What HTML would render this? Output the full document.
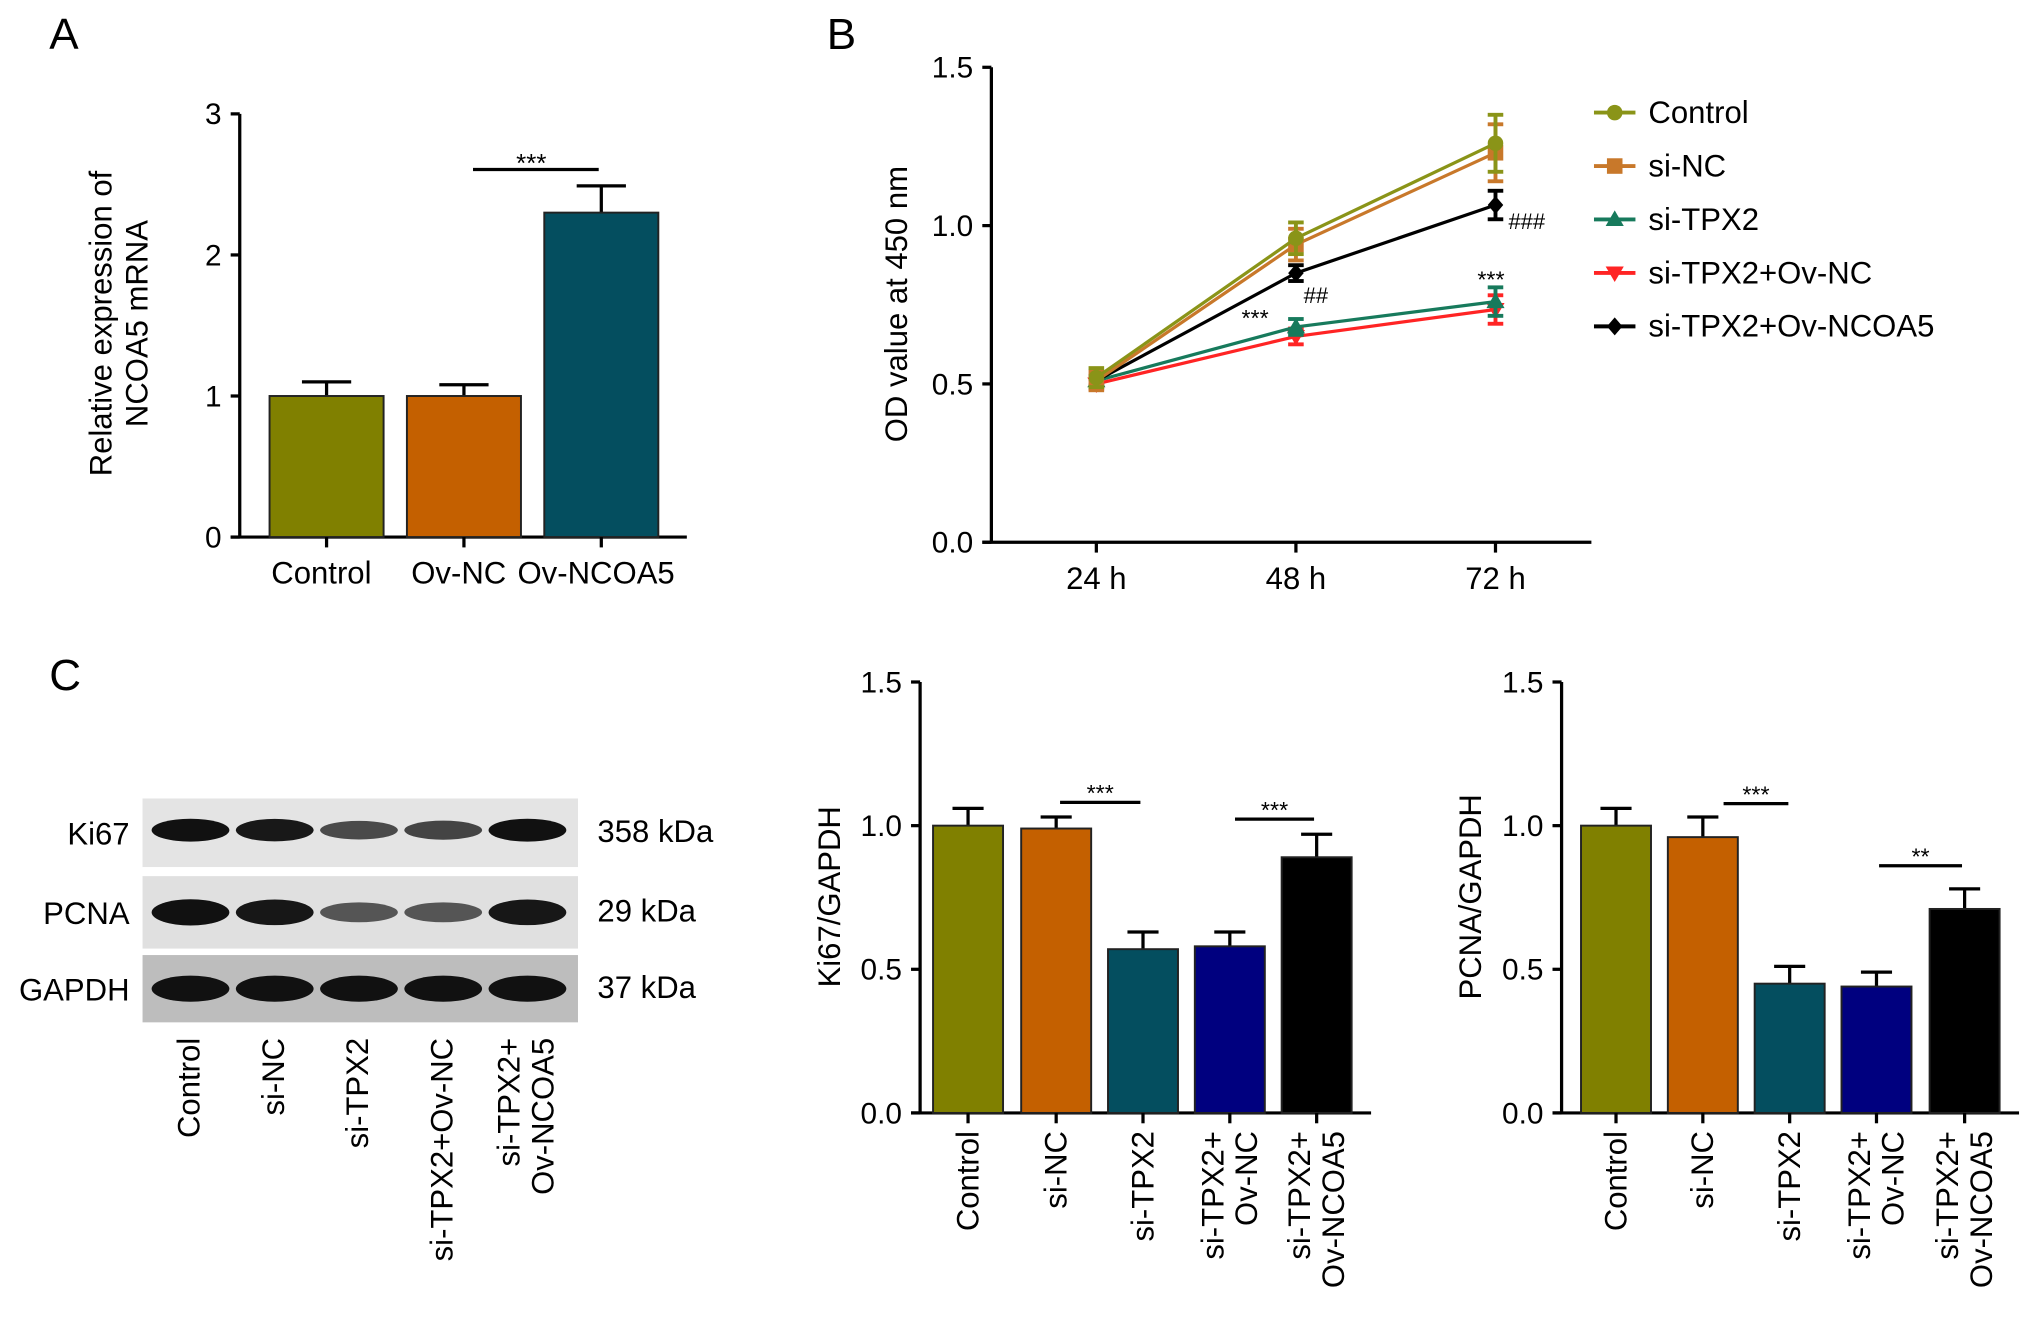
<!DOCTYPE html>
<html><head><meta charset="utf-8"><style>
html,body{margin:0;padding:0;background:#fff}
svg{display:block;font-family:"Liberation Sans",Arial,sans-serif}
</style></head><body>
<svg id="fig" width="2032" height="1320" viewBox="0 0 1568 1020" preserveAspectRatio="none" xmlns="http://www.w3.org/2000/svg">
<text x="38" y="38" font-size="34">A</text>
<text x="638" y="38" font-size="34">B</text>
<text x="38" y="533" font-size="34">C</text>
<g id="gA"></g>
<g id="gB"></g>
<g id="gBlot"></g>
<g id="gK"></g>
<g id="gP"></g>
</svg>
<script>
// Panel A data
const aCats = ["Control","Ov-NC","Ov-NCOA5"];
const aVals = [1.0, 1.0, 2.3];
const aErr = [0.10, 0.08, 0.19];
const aTicks = [0,1,2,3];
// Panel B data
const bTimes = ["24 h","48 h","72 h"];
const bNames = ["Control","si-NC","si-TPX2","si-TPX2+Ov-NC","si-TPX2+Ov-NCOA5"];
const bControl = [0.52, 0.96, 1.26];
const bSiNC = [0.51, 0.94, 1.23];
const bSiTPX2 = [0.51, 0.68, 0.76];
const bOvNC = [0.50, 0.65, 0.735];
const bOvNCOA5 = [0.51, 0.85, 1.065];
const bErr = [0.03, 0.05, 0.09];
const bTicks = [0.0, 0.5, 1.0, 1.5];
// Panel C data
const cCats = [["Control"],["si-NC"],["si-TPX2"],["si-TPX2+","Ov-NC"],["si-TPX2+","Ov-NCOA5"]];
const kiVals = [1.0, 0.99, 0.57, 0.58, 0.89];
const kiErr = [0.06, 0.04, 0.06, 0.05, 0.08];
const pcVals = [1.0, 0.96, 0.45, 0.44, 0.71];
const pcErr = [0.06, 0.07, 0.06, 0.05, 0.07];
const cTicks = [0.0, 0.5, 1.0, 1.5];
const blotRows = ["Ki67","PCNA","GAPDH"];
const blotKda = ["358 kDa","29 kDa","37 kDa"];
const blotLanes = ["Control","si-NC","si-TPX2","si-TPX2+Ov-NC","si-TPX2+Ov-NCOA5"];
const ki67Band = [1.0, 0.95, 0.55, 0.6, 1.0];
const pcnaBand = [1.0, 0.95, 0.45, 0.45, 0.95];
const gapdhBand = [1.0, 1.0, 1.0, 1.0, 1.0];

const NS="http://www.w3.org/2000/svg";
function el(p,tag,at,txt){const e=document.createElementNS(NS,tag);for(const k in at)e.setAttribute(k,at[k]);if(txt!==undefined)e.textContent=txt;p.appendChild(e);return e;}

// ---- Panel A ----
(function(){
 const g=document.getElementById('gA');
 const x0=185,yTop=88,yBot=415,vmax=3;
 const y=v=>yBot-(v/vmax)*(yBot-yTop);
 const cx=[252,358,464], bw=88;
 const colors=["#808000","#c46000","#044e5f"];
 let e=el(g,'line',{x1:x0,y1:yTop,x2:x0,y2:yBot+1,stroke:'#000','stroke-width':2.5});
 
 e=el(g,'line',{x1:x0-7,y1:yBot,x2:530,y2:yBot,stroke:'#000','stroke-width':2.5});
 
 aTicks.forEach(t=>{el(g,'line',{x1:x0-7,y1:y(t),x2:x0,y2:y(t),stroke:'#000','stroke-width':2.5});
  e=el(g,'text',{x:x0-14,y:y(t)+8,'font-size':23,'text-anchor':'end'},String(t));
  });
 aCats.forEach((c,i)=>{
  const top=y(aVals[i]);
  el(g,'line',{x1:cx[i],y1:y(aVals[i]+aErr[i]),x2:cx[i],y2:top,stroke:'#000','stroke-width':2.5});
  el(g,'line',{x1:cx[i]-19,y1:y(aVals[i]+aErr[i]),x2:cx[i]+19,y2:y(aVals[i]+aErr[i]),stroke:'#000','stroke-width':2.5});
  e=el(g,'rect',{x:cx[i]-bw/2,y:top,width:bw,height:yBot-top,fill:colors[i],stroke:'#222','stroke-width':1.5});
  
  el(g,'line',{x1:cx[i],y1:yBot,x2:cx[i],y2:yBot+8,stroke:'#000','stroke-width':2.5});
  e=el(g,'text',{x:cx[i]-4,y:451,'font-size':24,'text-anchor':'middle'},c);
  
 });
 el(g,'line',{x1:365,y1:131,x2:462,y2:131,stroke:'#000','stroke-width':2.5});
 el(g,'text',{x:410,y:133,'font-size':20,'text-anchor':'middle'},'***');
 e=el(g,'text',{transform:'translate(86,250) rotate(-90)','font-size':24,'text-anchor':'middle'},'Relative expression of');
 
 el(g,'text',{transform:'translate(114,250) rotate(-90)','font-size':24,'text-anchor':'middle'},'NCOA5 mRNA');
})();

// ---- Panel B ----
(function(){
 const g=document.getElementById('gB');
 const x0=765,yTop=52,yBot=419,vmax=1.5;
 const y=v=>yBot-(v/vmax)*(yBot-yTop);
 const xs=[846,1000,1154];
 let e=el(g,'line',{x1:x0,y1:yTop,x2:x0,y2:yBot,stroke:'#000','stroke-width':2.5});
 
 e=el(g,'line',{x1:x0-7,y1:yBot,x2:1228,y2:yBot,stroke:'#000','stroke-width':2.5});
 
 bTicks.forEach(t=>{el(g,'line',{x1:x0-7,y1:y(t),x2:x0,y2:y(t),stroke:'#000','stroke-width':2.5});
  e=el(g,'text',{x:x0-14,y:y(t)+8,'font-size':23,'text-anchor':'end'},t.toFixed(1));
  });
 bTimes.forEach((t,i)=>{el(g,'line',{x1:xs[i],y1:yBot,x2:xs[i],y2:yBot+8,stroke:'#000','stroke-width':2.5});
  e=el(g,'text',{x:xs[i],y:455,'font-size':24,'text-anchor':'middle'},t);
  });
 e=el(g,'text',{transform:'translate(700,235) rotate(-90)','font-size':24,'text-anchor':'middle'},'OD value at 450 nm');
 
 const series=[bControl,bSiNC,bSiTPX2,bOvNC,bOvNCOA5];
 const cols=["#8a9418","#c8782a","#177a5c","#ff2424","#000"];
 const marks=["circle","square","tri","itri","diamond"];
 function marker(p,m,cx,cy,c){
  if(m==="circle")return el(p,'circle',{cx,cy,r:6,fill:c});
  if(m==="square")return el(p,'rect',{x:cx-6,y:cy-6,width:12,height:12,fill:c});
  if(m==="tri")return el(p,'polygon',{points:`${cx},${cy-7} ${cx-7},${cy+5} ${cx+7},${cy+5}`,fill:c});
  if(m==="itri")return el(p,'polygon',{points:`${cx},${cy+7} ${cx-7},${cy-5} ${cx+7},${cy-5}`,fill:c});
  return el(p,'polygon',{points:`${cx},${cy-7} ${cx+6},${cy} ${cx},${cy+7} ${cx-6},${cy}`,fill:c});
 }
 [3,2,4,1,0].forEach(si=>{
  const s=series[si];
  const sg=el(g,'g',{});
  
  
  el(sg,'polyline',{points:s.map((v,i)=>xs[i]+','+y(v)).join(' '),fill:'none',stroke:cols[si],'stroke-width':2.5});
  s.forEach((v,i)=>{
   const er=bErr[i]*(si>=2?0.5:1);
   el(sg,'line',{x1:xs[i],y1:y(v+er),x2:xs[i],y2:y(v-er),stroke:cols[si],'stroke-width':3});
   el(sg,'line',{x1:xs[i]-6,y1:y(v+er),x2:xs[i]+6,y2:y(v+er),stroke:cols[si],'stroke-width':3});
   el(sg,'line',{x1:xs[i]-6,y1:y(v-er),x2:xs[i]+6,y2:y(v-er),stroke:cols[si],'stroke-width':3});
   const m=marker(sg,marks[si],xs[i],y(v),cols[si]);
   
  });
 });
 el(g,'text',{x:1006,y:234,'font-size':17},'##');
 el(g,'text',{x:1164,y:177,'font-size':17},'###');
 el(g,'text',{x:958,y:252,'font-size':18},'***');
 el(g,'text',{x:1140,y:222,'font-size':18},'***');
 bNames.forEach((n,i)=>{
  const ly=87+i*41.3;
  const lg=el(g,'g',{});
  
  el(lg,'line',{x1:1230,y1:ly,x2:1262,y2:ly,stroke:cols[i],'stroke-width':3});
  marker(lg,marks[i],1246,ly,cols[i]);
  el(lg,'text',{x:1272,y:ly+8,'font-size':24},n);
 });
})();

// ---- Western blot ----
(function(){
 const g=document.getElementById('gBlot');
 const strips=[[617,670,'#e4e4e4'],[677,733,'#e0e0e0'],[738,790,'#bdbdbd']];
 const lanes=[147,212,277,342,407];
 const bands=[ki67Band,pcnaBand,gapdhBand];
 const bh=[11,13,13];
 let e;
 blotRows.forEach((r,ri)=>{
  const [y1,y2,c]=strips[ri];
  e=el(g,'rect',{x:110,y:y1,width:336,height:y2-y1,fill:c});
  
  const cy=(y1+y2)/2;
  lanes.forEach((lx,li)=>{
   const k=bands[ri][li];
   e=el(g,'ellipse',{cx:lx,cy:cy-(ri===0?2:0),rx:30,ry:bh[ri]*(0.45+0.55*k)/1.6+2,fill:'#111','fill-opacity':0.4+0.6*k});
   
  });
  e=el(g,'text',{x:100,y:cy+9,'font-size':24,'text-anchor':'end'},r);
  
  e=el(g,'text',{x:461,y:cy+7,'font-size':24},blotKda[ri]);
  
 });
 const lab=[["Control"],["si-NC"],["si-TPX2"],["si-TPX2+Ov-NC"],["si-TPX2+","Ov-NCOA5"]];
 lab.forEach((L,i)=>{
  L.forEach((t,j)=>{
   const xx=lanes[i]+7+(L.length===2?(j===0?-13:13):0);
   e=el(g,'text',{transform:`translate(${xx},802) rotate(-90)`,'font-size':24,'text-anchor':'end'},t);
   
  });
 });
})();

// ---- Bar charts C ----
function barChart(id,x0,xs,vals,errs,title,sigs){
 const g=document.getElementById(id);
 const yTop=527,yBot=860,vmax=1.5,bw=54;
 const y=v=>yBot-(v/vmax)*(yBot-yTop);
 const colors=["#808000","#c46000","#044e5f","#00007f","#000"];
 let e=el(g,'line',{x1:x0,y1:yTop,x2:x0,y2:yBot,stroke:'#000','stroke-width':2.5});
 
 e=el(g,'line',{x1:x0-7,y1:yBot,x2:xs[4]+42,y2:yBot,stroke:'#000','stroke-width':2.5});
 
 cTicks.forEach(t=>{el(g,'line',{x1:x0-7,y1:y(t),x2:x0,y2:y(t),stroke:'#000','stroke-width':2.5});
  e=el(g,'text',{x:x0-14,y:y(t)+8,'font-size':23,'text-anchor':'end'},t.toFixed(1));
  });
 e=el(g,'text',{transform:`translate(${x0-62},693) rotate(-90)`,'font-size':24,'text-anchor':'middle'},title);
 
 vals.forEach((v,i)=>{
  const top=y(v);
  el(g,'line',{x1:xs[i],y1:y(v+errs[i]),x2:xs[i],y2:top,stroke:'#000','stroke-width':2.5});
  el(g,'line',{x1:xs[i]-12,y1:y(v+errs[i]),x2:xs[i]+12,y2:y(v+errs[i]),stroke:'#000','stroke-width':2.5});
  e=el(g,'rect',{x:xs[i]-bw/2,y:top,width:bw,height:yBot-top,fill:colors[i],stroke:'#222','stroke-width':1.5});
  
  el(g,'line',{x1:xs[i],y1:yBot,x2:xs[i],y2:yBot+8,stroke:'#000','stroke-width':2.5});
  const L=cCats[i];
  L.forEach((t,j)=>{
   const xx=xs[i]+8+(L.length===2?(j===0?-13:13):0);
   e=el(g,'text',{transform:`translate(${xx},874) rotate(-90)`,'font-size':24,'text-anchor':'end'},t);
   
  });
 });
 sigs.forEach(s=>{
  el(g,'line',{x1:s[0],y1:s[2],x2:s[1],y2:s[2],stroke:'#000','stroke-width':2.5});
  el(g,'text',{x:(s[0]+s[1])/2,y:s[2]-1,'font-size':18,'text-anchor':'middle'},s[3]);
 });
}
barChart('gK',710,[747,815,882,949,1016],kiVals,kiErr,'Ki67/GAPDH',[[818,880,620,'***'],[953,1014,633,'***']]);
barChart('gP',1205,[1247,1314,1381,1448,1516],pcVals,pcErr,'PCNA/GAPDH',[[1330,1380,621,'***'],[1450,1514,669,'**']]);
</script>
</body></html>
